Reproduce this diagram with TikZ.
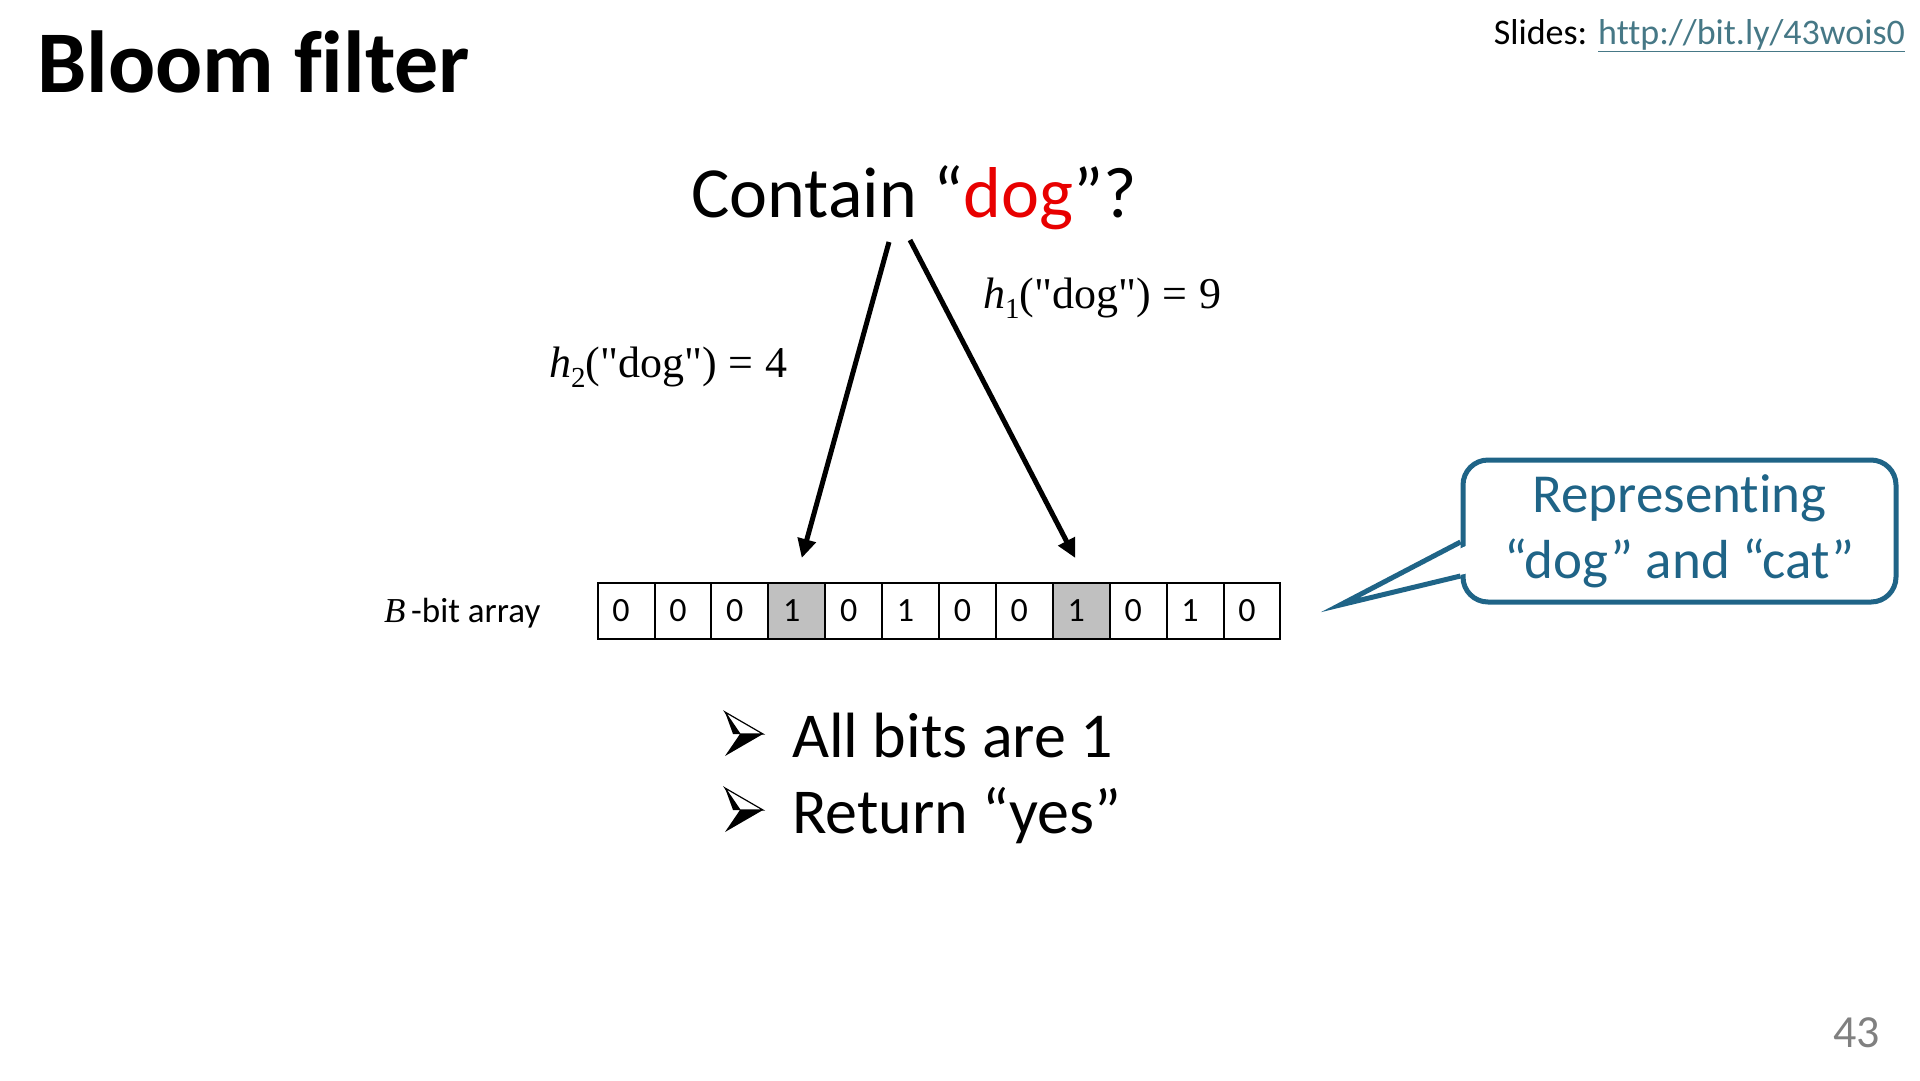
\documentclass[tikz,border=0pt]{standalone}
\usepackage{fontspec}
\setmainfont{Carlito}[Ligatures={TeX,NoCommon}]
\newfontfamily\serifm[Ligatures=TeXOff]{Liberation Serif}
\usetikzlibrary{arrows.meta,calc}
\definecolor{calloutblue}{RGB}{31,100,135}
\definecolor{dogred}{RGB}{232,0,0}
\definecolor{cellgray}{RGB}{192,192,192}
\definecolor{linkcol}{RGB}{70,120,134}
\definecolor{pagegray}{RGB}{128,128,128}
\newcommand{\fs}[1]{\fontsize{#1}{#1}\selectfont}
\newcommand{\hsub}[1]{{\itshape h}\raisebox{-0.22em}{\fontsize{29}{29}\selectfont #1}}
\tikzset{
  txt/.style={inner sep=0pt, outer sep=0pt},
  cell/.style={draw=black, line width=2pt, minimum width=56.9pt, minimum height=56pt, inner sep=0pt, outer sep=0pt, font=\fs{34}},
  onecell/.style={cell, fill=cellgray},
  hasharrow/.style={line width=5pt, -{Triangle[length=19pt,width=18pt]}},
  hashlabel/.style={txt, anchor=west, font=\fs{44}\serifm},
  callbox/.style={draw=calloutblue, line width=5pt, fill=white, rounded corners=25pt, minimum width=433pt, minimum height=142pt, align=center, text=calloutblue, font=\fs{55}, inner sep=0pt},
  bultop/.style={draw=black, line width=1.2pt, fill=white, line join=miter},
  bulbot/.style={fill=black}
}
\newcommand{\bularrow}[2]{%
  \draw[bultop] (#1,#2-44) -- (#1+38,#2-22) -- (#1+15,#2-22) -- cycle;
  \fill[bulbot] (#1+15,#2-22) -- (#1+38,#2-22) -- (#1,#2) -- cycle;
  \fill[bulbot] (#1,#2-44) -- (#1+15,#2-22) -- (#1+8,#2-22) -- cycle;
}
\begin{document}
\begin{tikzpicture}[x=1pt,y=-1pt]
\useasboundingbox (0,0) rectangle (1920,1080);
% title and header
\node[txt, anchor=base west, font=\fs{88}\bfseries] (title) at (37,92) {Bloom filter};
\node[txt, anchor=base east, font=\fs{36}] (slides) at (1905,44) {Slides: \textcolor{linkcol}{\underline{http://bit.ly/43wois0}}};
% question
\node[txt, anchor=base, font=\fs{72}] (q) at (914,217) {Contain “\textcolor{dogred}{dog}”?};
% hash labels
\node[hashlabel] (h1) at (983,298) {\hsub{1}("dog")\;=\;9};
\node[hashlabel] (h2) at (549,367) {\hsub{2}("dog")\;=\;4};
% bit array
\foreach \b [count=\i from 0] in {0,0,0,1,0,1,0,0,1,0,1,0} {
  \ifnum\i=3
    \node[onecell] (c\i) at ({597.6+56.9*(\i+0.5)},611) {\kern-10pt\b};
  \else\ifnum\i=8
    \node[onecell] (c\i) at ({597.6+56.9*(\i+0.5)},611) {\kern-10pt\b};
  \else
    \node[cell] (c\i) at ({597.6+56.9*(\i+0.5)},611) {\kern-10pt\b};
  \fi\fi
}
\node[txt, anchor=base west, font=\fs{35}] (blabel) at (384,622) {{\serifm\itshape B}\,-bit array};
% arrows
\coordinate (s2) at (889,242);
\coordinate (s1) at (910,240);
\coordinate (e2) at ($(c3.north)+(5,-25)$);
\coordinate (e1) at ($(c8.north)+(-6,-25)$);
\draw[hasharrow] (s2) -- (e2);
\draw[hasharrow] (s1) -- (e1);
% callout
\node[callbox] (callout) at (1679.5,531) {Representing\\[11pt]“dog” and “cat”};
\coordinate (tip) at (1340,605);
\fill[white] (1468,545) -- (tip) -- (1468,573) -- cycle;
\draw[calloutblue, line width=5pt, line join=miter] (callout.west |- 0,542) -- (tip) -- (callout.west |- 0,576);
% bullets
\bularrow{725}{756}
\node[txt, anchor=base west, font=\fs{64}] (t1) at (792,757) {All bits are 1};
\bularrow{725}{832}
\node[txt, anchor=base west, font=\fs{64}] (t2) at (792,833) {Return “yes”};
% page number
\node[txt, anchor=base east, font=\fs{46}, text=pagegray] (pg) at (1880,1047) {43};
\end{tikzpicture}
\end{document}
